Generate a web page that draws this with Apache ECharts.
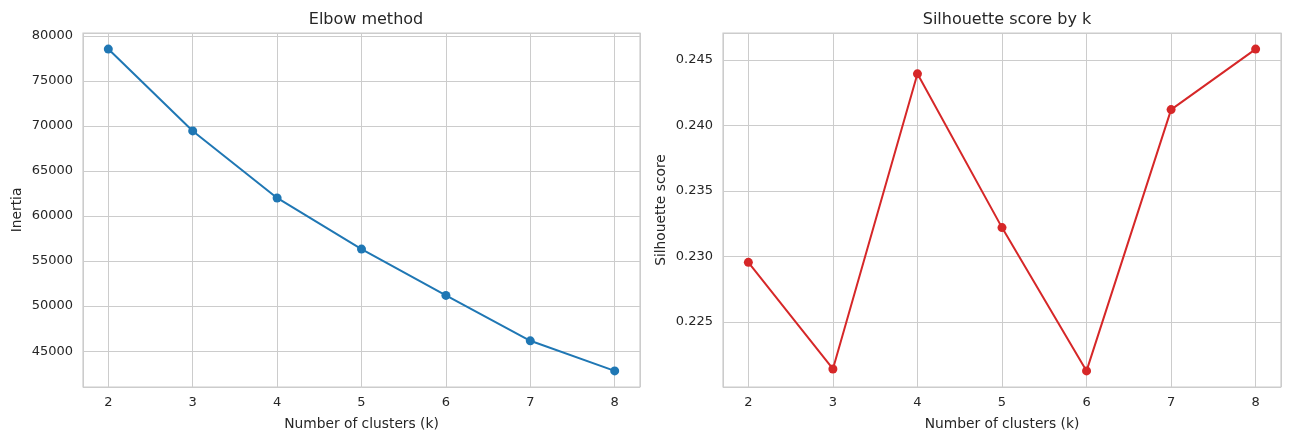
<!DOCTYPE html>
<html>
<head>
<meta charset="utf-8">
<script src="https://cdn.jsdelivr.net/npm/echarts@6/dist/echarts.min.js"></script>
<style>html,body{margin:0;padding:0;background:#fff}#c{width:1289px;height:440px}</style>
</head>
<body>
<div id="c"></div>
<script>
var kValues = [2, 3, 4, 5, 6, 7, 8];
var inertia = [78520, 69440, 62000, 56330, 51190, 46150, 42810];
var silhouette = [0.22955, 0.22141, 0.24394, 0.2322, 0.22126, 0.24121, 0.24583];
var titles = ['Elbow method', 'Silhouette score by k'];
var xName = 'Number of clusters (k)';
var yNames = ['Inertia', 'Silhouette score'];

function pad(arr) {
  var mn = Math.min.apply(null, arr), mx = Math.max.apply(null, arr);
  var p = (mx - mn) * 0.05;
  return [mn - p, mx + p];
}
var xr = pad(kValues), y0 = pad(inertia), y1 = pad(silhouette);
var txt = '#262626', gridc = '#cccccc', font = 'DejaVu Sans';

function xAxis(i) {
  return {
    type: 'value', gridIndex: i, min: xr[0], max: xr[1], splitNumber: 7,
    name: xName, nameLocation: 'middle', nameGap: 30,
    nameTextStyle: {color: txt, fontSize: 13.8, fontFamily: font},
    axisLine: {show: false}, axisTick: {show: false},
    axisLabel: {color: txt, fontSize: 13, fontFamily: font, margin: 9, showMinLabel: false, showMaxLabel: false},
    splitLine: {show: true, lineStyle: {color: gridc, width: 1}}
  };
}
function yAxis(i, r, split, nameGap, fmt) {
  return {
    type: 'value', gridIndex: i, min: r[0], max: r[1], splitNumber: split,
    name: yNames[i], nameLocation: 'middle', nameGap: nameGap,
    nameTextStyle: {color: txt, fontSize: 13.8, fontFamily: font},
    axisLine: {show: false}, axisTick: {show: false},
    axisLabel: {color: txt, fontSize: 13, fontFamily: font, margin: 10, showMinLabel: false, showMaxLabel: false, formatter: fmt},
    splitLine: {show: true, lineStyle: {color: gridc, width: 1}}
  };
}
var chart = echarts.init(document.getElementById('c'), null, {renderer: 'canvas'});
chart.setOption({
  backgroundColor: '#fff',
  animation: false,
  title: [
    {text: titles[0], left: 361, top: 7, textAlign: 'center', textStyle: {color: txt, fontSize: 16, fontWeight: 'normal', fontFamily: font}},
    {text: titles[1], left: 1002, top: 7, textAlign: 'center', textStyle: {color: txt, fontSize: 16, fontWeight: 'normal', fontFamily: font}}
  ],
  grid: [
    {left: 83, top: 33, width: 557, height: 354, show: true, borderColor: gridc, borderWidth: 1.2, containLabel: false},
    {left: 723, top: 33, width: 558, height: 354, show: true, borderColor: gridc, borderWidth: 1.2, containLabel: false}
  ],
  xAxis: [xAxis(0), xAxis(1)],
  yAxis: [
    yAxis(0, y0, 8, 59, function (v) { return String(Math.round(v)); }),
    yAxis(1, y1, 5, 55, function (v) { return v.toFixed(3); })
  ],
  series: [
    {type: 'line', xAxisIndex: 0, yAxisIndex: 0, data: kValues.map(function (k, i) { return [k, inertia[i]]; }),
     symbol: 'circle', symbolSize: 9, lineStyle: {color: '#1f77b4', width: 2}, itemStyle: {color: '#1f77b4'}},
    {type: 'line', xAxisIndex: 1, yAxisIndex: 1, data: kValues.map(function (k, i) { return [k, silhouette[i]]; }),
     symbol: 'circle', symbolSize: 9, lineStyle: {color: '#d62728', width: 2}, itemStyle: {color: '#d62728'}}
  ]
});
</script>
</body>
</html>
